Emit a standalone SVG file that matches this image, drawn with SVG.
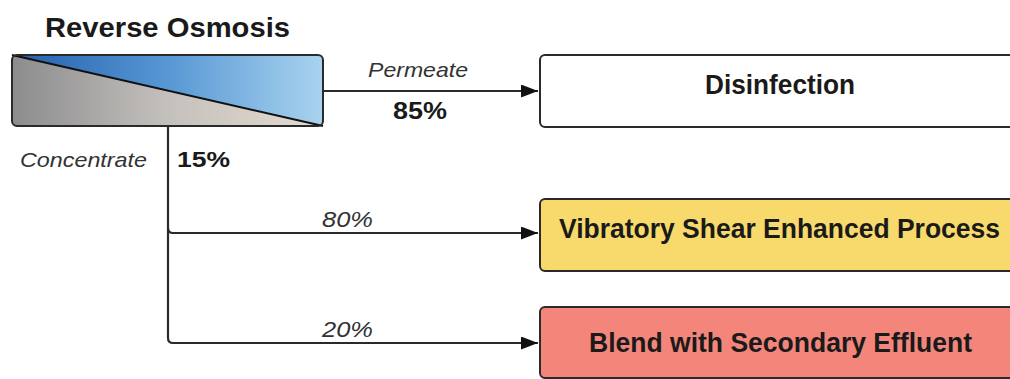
<svg xmlns="http://www.w3.org/2000/svg" width="1010" height="379" viewBox="0 0 1010 379">
<style>
.box{stroke:#2a2a2a;stroke-width:2}
.conn{fill:none;stroke:#2a2a2a;stroke-width:2.2}
.t{font-family:"Liberation Sans",Arial,sans-serif;fill:#1a1a1a}
.b{font-weight:bold}
.i{font-style:italic;fill:#333}
</style>
<defs>
<linearGradient id="blue" x1="0" y1="0" x2="1" y2="0">
<stop offset="0" stop-color="#2260ad"/>
<stop offset="0.5" stop-color="#5797d4"/>
<stop offset="1" stop-color="#a9d3ef"/>
</linearGradient>
<linearGradient id="grey" x1="0" y1="0" x2="1" y2="0">
<stop offset="0" stop-color="#8c8c8e"/>
<stop offset="0.5" stop-color="#c4c0bc"/>
<stop offset="1" stop-color="#e6dccf"/>
</linearGradient>
<clipPath id="roclip"><rect x="12" y="55" width="311" height="71" rx="5"/></clipPath>
<marker id="arr" markerWidth="17" markerHeight="13" refX="17" refY="6.5" orient="auto" markerUnits="userSpaceOnUse">
<path d="M0,0 L17,6.5 L0,13 Z" fill="#111"/>
</marker>
</defs>
<g id="connectors">
<path class="conn" d="M323,91 L538,91" marker-end="url(#arr)"/>
<path class="conn" d="M168,126 L168,228 Q168,233 173,233 L538,233" marker-end="url(#arr)"/>
<path class="conn" d="M168,228 L168,338 Q168,343 173,343 L538,343" marker-end="url(#arr)"/>
</g>
<g id="reverse-osmosis">
<text class="t b" x="45" y="37" font-size="28" textLength="245" lengthAdjust="spacingAndGlyphs">Reverse Osmosis</text>
<g clip-path="url(#roclip)">
<polygon points="12,55 323,55 323,126" fill="url(#blue)"/>
<polygon points="12,55 323,126 12,126" fill="url(#grey)"/>
</g>
<line x1="12" y1="55" x2="323" y2="126" stroke="#111" stroke-width="2"/>
<rect class="box" x="12" y="55" width="311" height="71" rx="5" fill="none"/>
</g>
<g id="labels">
<text class="t i" x="368" y="77" font-size="21" textLength="100" lengthAdjust="spacingAndGlyphs">Permeate</text>
<text class="t b" x="393" y="119" font-size="23" textLength="54" lengthAdjust="spacingAndGlyphs">85%</text>
<text class="t i" x="20" y="167" font-size="21" textLength="127" lengthAdjust="spacingAndGlyphs">Concentrate</text>
<text class="t b" x="177" y="167" font-size="22" textLength="53" lengthAdjust="spacingAndGlyphs">15%</text>
<text class="t i" x="322" y="227" font-size="22" textLength="51" lengthAdjust="spacingAndGlyphs">80%</text>
<text class="t i" x="322" y="337" font-size="22" textLength="51" lengthAdjust="spacingAndGlyphs">20%</text>
</g>
<g id="disinfection">
<rect class="box" x="540" y="55" width="490" height="72" rx="5" fill="#fff"/>
<text class="t b" x="705" y="94" font-size="27" textLength="150" lengthAdjust="spacingAndGlyphs">Disinfection</text>
</g>
<g id="vsep">
<rect class="box" x="540" y="199" width="490" height="72" rx="5" fill="#f8da6c"/>
<text class="t b" x="559" y="238" font-size="27" textLength="441" lengthAdjust="spacingAndGlyphs">Vibratory Shear Enhanced Process</text>
</g>
<g id="blend">
<rect class="box" x="540" y="307" width="490" height="71" rx="5" fill="#f4857a"/>
<text class="t b" x="589" y="352" font-size="27" textLength="383" lengthAdjust="spacingAndGlyphs">Blend with Secondary Effluent</text>
</g>
</svg>
